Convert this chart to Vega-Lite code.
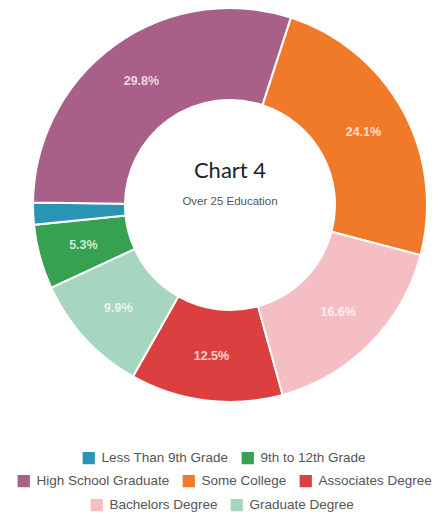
{
  "$schema": "https://vega.github.io/schema/vega-lite/v6.json",
  "width": 418,
  "height": 394,
  "autosize": {"type": "none"},
  "padding": {"left": 21, "top": 8, "right": 0, "bottom": 114},
  "background": "white",
  "config": {
    "view": {"stroke": null},
    "legend": {
      "title": null,
      "orient": "none",
      "direction": "horizontal",
      "symbolType": "square",
      "symbolSize": 150,
      "symbolStrokeWidth": 0,
      "labelFont": "Liberation Sans",
      "labelFontSize": 13.5,
      "labelColor": "#555555",
      "columnPadding": 12,
      "labelOffset": 6
    }
  },
  "data": {
    "values": [
      {"category": "Some College", "seq": 1, "pct": 0.241},
      {"category": "Bachelors Degree", "seq": 2, "pct": 0.166},
      {"category": "Associates Degree", "seq": 3, "pct": 0.125},
      {"category": "Graduate Degree", "seq": 4, "pct": 0.099},
      {"category": "9th to 12th Grade", "seq": 5, "pct": 0.053},
      {"category": "Less Than 9th Grade", "seq": 6, "pct": 0.018},
      {"category": "High School Graduate", "seq": 7, "pct": 0.298}
    ]
  },
  "transform": [
    {"stack": "pct", "groupby": [], "sort": [{"field": "seq", "order": "ascending"}], "as": ["s0", "s1"]}
  ],
  "layer": [
    {
      "transform": [{"filter": {"field": "category", "oneOf": ["Less Than 9th Grade", "9th to 12th Grade"]}}],
      "mark": {"type": "arc", "innerRadius": 105, "outerRadius": 197, "stroke": "white", "strokeWidth": 2},
      "encoding": {
        "theta": {"field": "s0", "type": "quantitative", "stack": null, "scale": {"domain": [0, 1], "range": [0.314, 6.597]}},
        "theta2": {"field": "s1"},
        "color": {
          "field": "category", "type": "nominal",
          "scale": {"domain": ["Less Than 9th Grade", "9th to 12th Grade"], "range": ["#2A95B2", "#36A150"]},
          "legend": {"legendX": 61, "legendY": 443}
        }
      }
    },
    {
      "transform": [{"filter": {"field": "category", "oneOf": ["High School Graduate", "Some College", "Associates Degree"]}}],
      "mark": {"type": "arc", "innerRadius": 105, "outerRadius": 197, "stroke": "white", "strokeWidth": 2},
      "encoding": {
        "theta": {"field": "s0", "type": "quantitative", "stack": null, "scale": {"domain": [0, 1], "range": [0.314, 6.597]}},
        "theta2": {"field": "s1"},
        "color": {
          "field": "category", "type": "nominal",
          "scale": {"domain": ["High School Graduate", "Some College", "Associates Degree"], "range": ["#A85F88", "#F07A2A", "#DB3F3F"]},
          "legend": {"legendX": -4, "legendY": 466}
        }
      }
    },
    {
      "transform": [{"filter": {"field": "category", "oneOf": ["Bachelors Degree", "Graduate Degree"]}}],
      "mark": {"type": "arc", "innerRadius": 105, "outerRadius": 197, "stroke": "white", "strokeWidth": 2},
      "encoding": {
        "theta": {"field": "s0", "type": "quantitative", "stack": null, "scale": {"domain": [0, 1], "range": [0.314, 6.597]}},
        "theta2": {"field": "s1"},
        "color": {
          "field": "category", "type": "nominal",
          "scale": {"domain": ["Bachelors Degree", "Graduate Degree"], "range": ["#F4BEC3", "#A6D5C0"]},
          "legend": {"legendX": 69, "legendY": 490}
        }
      }
    },
    {
      "mark": {"type": "text", "radius": 152, "font": "Liberation Sans", "fontSize": 12.5, "fontWeight": "bold", "color": "white"},
      "encoding": {
        "theta": {"field": "pct", "type": "quantitative", "stack": true, "scale": {"domain": [0, 1], "range": [0.314, 6.597]}},
        "order": {"field": "seq", "type": "quantitative"},
        "text": {"field": "pct", "type": "quantitative", "format": ".1%"},
        "opacity": {"condition": {"test": "datum.pct < 0.03", "value": 0}, "value": 0.75}
      }
    },
    {
      "data": {"values": [{"t": "Chart 4"}]},
      "mark": {"type": "text", "font": "Lato", "fontSize": 22, "color": "#222222", "baseline": "middle", "dy": -34},
      "encoding": {"text": {"field": "t"}}
    },
    {
      "data": {"values": [{"t": "Over 25 Education"}]},
      "mark": {"type": "text", "font": "Liberation Sans", "fontSize": 11.5, "color": "#555555", "baseline": "middle", "dy": -3},
      "encoding": {"text": {"field": "t"}}
    }
  ],
  "resolve": {"scale": {"color": "independent"}}
}
